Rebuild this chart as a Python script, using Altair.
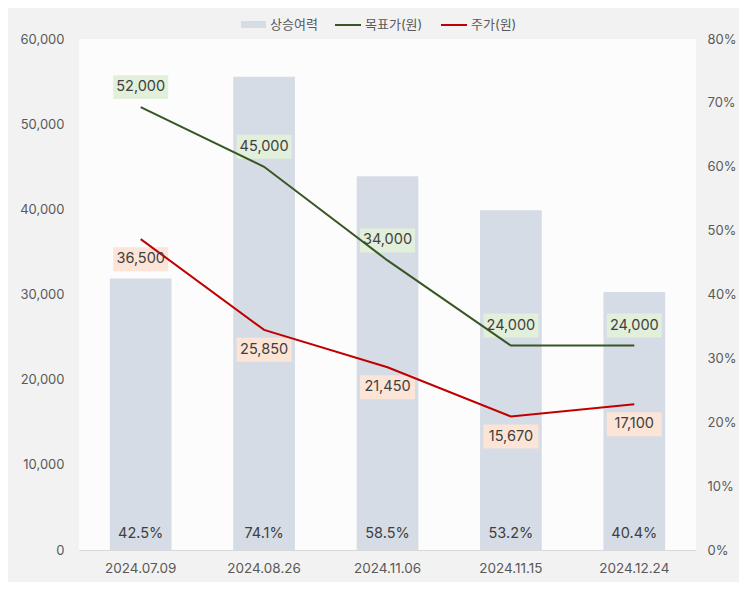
import altair as alt
import pandas as pd

dates = ["2024.07.09", "2024.08.26", "2024.11.06", "2024.11.15", "2024.12.24"]
upside = [0.425, 0.741, 0.585, 0.532, 0.404]
target_price = [52000, 45000, 34000, 24000, 24000]
stock_price = [36500, 25850, 21450, 15670, 17100]

FONT = "Inter, 'Noto Sans CJK KR', sans-serif"
AXIS_COLOR = "#595959"
TEXT_COLOR = "#404040"

bar_df = pd.DataFrame({"date": dates, "upside": upside, "series": "상승여력", "base": 0})
tgt_df = pd.DataFrame({"date": dates, "value": target_price, "series": "목표가(원)", "box": "#e2efda"})
prc_df = pd.DataFrame({"date": dates, "value": stock_price, "series": "주가(원)", "box": "#fce4d6"})
line_df = pd.concat([tgt_df, prc_df], ignore_index=True)

X = alt.X(
    "date:N", sort=dates, title=None,
    scale=alt.Scale(paddingInner=0.5, paddingOuter=0.25),
    axis=alt.Axis(labelAngle=0, ticks=False, domain=True, domainColor="#d9d9d9",
                  labelFont=FONT, labelFontSize=13.5, labelColor=AXIS_COLOR,
                  labelPadding=11, grid=False),
)

PCT_AXIS = alt.Axis(orient="right", format=".0%", values=[0, 0.1, 0.2, 0.3, 0.4, 0.5, 0.6, 0.7, 0.8],
                    ticks=False, domain=False, grid=False, labelFont=FONT, labelFontSize=13,
                    labelColor=AXIS_COLOR, labelPadding=11)
Y_PCT = alt.Y("upside:Q", title=None, scale=alt.Scale(domain=[0, 0.8]), axis=PCT_AXIS)
Y_BASE = alt.Y("base:Q", title=None, scale=alt.Scale(domain=[0, 0.8]), axis=PCT_AXIS)

VAL_AXIS = alt.Axis(orient="left", format=",.0f", values=[0, 10000, 20000, 30000, 40000, 50000, 60000],
                    ticks=False, domain=False, grid=False, labelFont=FONT, labelFontSize=13,
                    labelColor=AXIS_COLOR, labelPadding=15)
Y_VAL = alt.Y("value:Q", title=None, scale=alt.Scale(domain=[0, 60000]), axis=VAL_AXIS)

BAR_SYMBOL = "M-1,-0.28L1,-0.28L1,0.28L-1,0.28Z"
BOX = "M-1,-0.436L1,-0.436L1,0.436L-1,0.436Z"

bars = alt.Chart(bar_df).mark_bar().encode(
    x=X, y=Y_PCT,
    fill=alt.Fill("series:N", scale=alt.Scale(domain=["상승여력"], range=["#d6dce5"]),
                  legend=alt.Legend(orient="none", legendX=162, legendY=-27, direction="horizontal",
                                    title=None, symbolType=BAR_SYMBOL, symbolSize=625,
                                    symbolStrokeWidth=0, labelFont=FONT, labelFontSize=13,
                                    labelColor=AXIS_COLOR, labelOffset=4, padding=0)),
)
bar_text = alt.Chart(bar_df).mark_text(yOffset=-16, fontSize=14.5, color=TEXT_COLOR, font=FONT).encode(
    x=X, y=Y_BASE, text=alt.Text("upside:Q", format=".1%"),
)
bars_layer = alt.layer(bars, bar_text)

box_t = alt.Chart(tgt_df).mark_point(shape=BOX, size=3025, filled=True, opacity=1, strokeWidth=0,
                                     yOffset=-20).encode(
    x=X, y=Y_VAL, color=alt.Color("box:N", scale=None, legend=None))
box_p = alt.Chart(prc_df).mark_point(shape=BOX, size=3025, filled=True, opacity=1, strokeWidth=0,
                                     yOffset=20).encode(
    x=X, y=Y_VAL, color=alt.Color("box:N", scale=None, legend=None))
lines = alt.Chart(line_df).mark_line(strokeWidth=2).encode(
    x=X, y=Y_VAL,
    stroke=alt.Stroke("series:N", sort=["목표가(원)", "주가(원)"],
                      scale=alt.Scale(domain=["목표가(원)", "주가(원)"], range=["#375623", "#c00000"]),
                      legend=alt.Legend(orient="none", legendX=255, legendY=-28, direction="horizontal",
                                        title=None, symbolType="stroke", symbolSize=676,
                                        symbolStrokeWidth=2, labelFont=FONT, labelFontSize=13,
                                        labelColor=AXIS_COLOR, labelOffset=3, columnPadding=14,
                                        padding=0)),
)
text_t = alt.Chart(tgt_df).mark_text(yOffset=-20, fontSize=14.5, color=TEXT_COLOR, font=FONT).encode(
    x=X, y=Y_VAL, text=alt.Text("value:Q", format=","))
text_p = alt.Chart(prc_df).mark_text(yOffset=20, fontSize=14.5, color=TEXT_COLOR, font=FONT).encode(
    x=X, y=Y_VAL, text=alt.Text("value:Q", format=","))
lines_layer = alt.layer(box_t, box_p, lines, text_t, text_p)

chart = alt.layer(bars_layer, lines_layer).resolve_scale(y="independent").properties(
    width=617, height=511,
    autosize=alt.AutoSizeParams(type="none"),
    padding={"left": 71, "top": 31, "right": 43, "bottom": 32},
    background="#f2f2f2",
).configure_view(fill="#fcfcfc", stroke=None)

chart.save("out.html", embed_options={"renderer": "svg", "actions": False})
